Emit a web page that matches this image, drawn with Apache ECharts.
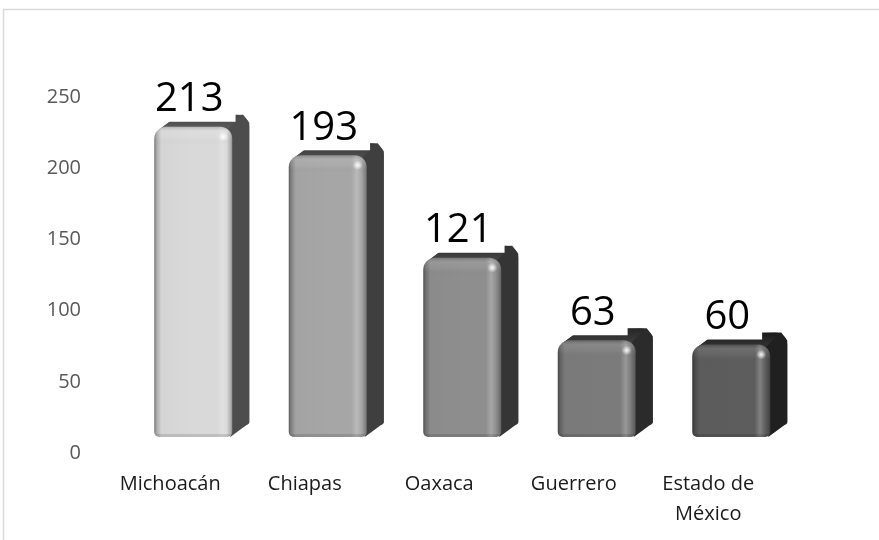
<!DOCTYPE html>
<html>
<head>
<meta charset="utf-8">
<script src="https://cdn.jsdelivr.net/npm/echarts@6/dist/echarts.min.js"></script>
<style>html,body{margin:0;padding:0;background:#fff}#c{width:879px;height:540px}</style>
</head>
<body>
<div id="c"></div>
<script>
const categories = ['Michoacán', 'Chiapas', 'Oaxaca', 'Guerrero', 'Estado de México'];
const values = [213, 193, 121, 63, 60];
const yTicks = [0, 50, 100, 150, 200, 250];

const frontColors = ['#d9d9d9', '#a6a6a6', '#8e8e8e', '#7b7b7b', '#5d5d5d'];
const sideColors = ['#4d4d4d', '#3f3f3f', '#353535', '#2b2b2b', '#202020'];

function shade(hex, f) {
  const n = parseInt(hex.slice(1), 16);
  let r = (n >> 16) & 255, g = (n >> 8) & 255, b = n & 255;
  const adj = c => {
    if (f >= 0) return Math.round(c + (255 - c) * f);
    return Math.round(c * (1 + f));
  };
  return 'rgb(' + adj(r) + ',' + adj(g) + ',' + adj(b) + ')';
}

const chart = echarts.init(document.getElementById('c'), null, {renderer: 'canvas'});

function renderItem(params, api) {
  const idx = params.dataIndex;
  const v = api.value(1);
  const p = api.coord([api.value(0), v]);
  const p0 = api.coord([api.value(0), 0]);
  const cx = p[0];
  const fl = cx - 16, fr = cx + 62, w = fr - fl;
  const bottom = p0[1] - 16;
  const top = p[1] - 23;
  const dx = 17, dy = -12;
  const body = frontColors[idx];
  const side = sideColors[idx];
  const r = 12;
  const children = [];
  // back silhouette
  children.push({
    type: 'rect',
    shape: {x: fl + dx, y: top + dy, width: w, height: bottom - top, r: [r, r, 4, 4]},
    style: {fill: side}
  });
  // hull connecting front and back
  children.push({
    type: 'polygon',
    shape: {points: [[fl + 6, top + 2], [fl + dx + 6, top + dy + 2], [fr + dx - 6, top + dy], [fr + dx, top + dy + 8], [fr + dx, bottom + dy - 2], [fr - 2, bottom], [fr - 2, top + 4]]},
    style: {fill: side}
  });
  // top face subtle gradient
  children.push({
    type: 'polygon',
    shape: {points: [[fl + 6, top + 2], [fl + dx + 6, top + dy + 1], [fr + dx - 8, top + dy + 1], [fr - 4, top + 2]]},
    style: {fill: new echarts.graphic.LinearGradient(0, 0, 0, 1, [
      {offset: 0, color: shade(side, -0.1)},
      {offset: 1, color: shade(side, 0.08)}
    ])}
  });
  // front face
  children.push({
    type: 'rect',
    shape: {x: fl, y: top, width: w, height: bottom - top, r: [r, r, 5, 5]},
    style: {fill: new echarts.graphic.LinearGradient(0, 0, 1, 0, [
      {offset: 0, color: shade(body, -0.45)},
      {offset: 0.03, color: shade(body, -0.22)},
      {offset: 0.09, color: shade(body, -0.02)},
      {offset: 0.5, color: body},
      {offset: 0.8, color: body},
      {offset: 0.87, color: shade(body, 0.22)},
      {offset: 0.93, color: shade(body, 0.02)},
      {offset: 0.98, color: shade(body, -0.2)},
      {offset: 1, color: shade(body, -0.35)}
    ])}
  });
  // top bevel
  children.push({
    type: 'rect',
    shape: {x: fl, y: top, width: w, height: 18, r: [r, r, 0, 0]},
    style: {fill: new echarts.graphic.LinearGradient(0, 0, 0, 1, [
      {offset: 0, color: 'rgba(0,0,0,0.18)'},
      {offset: 0.25, color: 'rgba(255,255,255,0.10)'},
      {offset: 0.6, color: 'rgba(255,255,255,0.05)'},
      {offset: 1, color: 'rgba(0,0,0,0)'}
    ])}
  });
  // bottom rim
  children.push({
    type: 'rect',
    shape: {x: fl + 2, y: bottom - 3, width: w - 4, height: 3, r: [0, 0, 4, 4]},
    style: {fill: 'rgba(0,0,0,0.12)'}
  });
  // specular highlight
  children.push({
    type: 'circle',
    shape: {cx: fr - 9, cy: top + 10, r: 5},
    style: {fill: new echarts.graphic.RadialGradient(0.5, 0.5, 0.5, [
      {offset: 0, color: 'rgba(255,255,255,0.95)'},
      {offset: 1, color: 'rgba(255,255,255,0)'}
    ])}
  });
  // value label
  children.push({
    type: 'text',
    style: {
      text: String(v),
      x: cx + 19,
      y: top + dy + 7,
      align: 'center',
      verticalAlign: 'bottom',
      font: '40px "Open Sans"',
      lineHeight: 40,
      fill: '#000000',
      backgroundColor: '#ffffff',
      padding: [0, 12, 2, 12]
    }
  });
  return {type: 'group', children: children};
}

chart.setOption({
  animation: false,
  backgroundColor: '#ffffff',
  graphic: [{
    type: 'rect',
    shape: {x: 3.5, y: 9.5, width: 900, height: 600},
    style: {fill: 'none', stroke: '#d9d9d9', lineWidth: 1.5},
    silent: true,
    z: -10
  }],
  grid: {left: 103, right: 103.5, top: 97, bottom: 87},
  xAxis: {
    type: 'category',
    data: categories,
    axisLine: {show: false},
    axisTick: {show: false},
    axisLabel: {
      interval: 0,
      margin: 16,
      color: '#1a1a1a',
      fontFamily: 'Open Sans',
      fontSize: 20,
      lineHeight: 30,
      formatter: s => s.replace('Estado de ', 'Estado de\n')
    }
  },
  yAxis: {
    type: 'value',
    min: yTicks[0],
    max: yTicks[yTicks.length - 1],
    interval: 50,
    axisLine: {show: false},
    axisTick: {show: false},
    splitLine: {show: false},
    axisLabel: {margin: 22, color: '#595959', fontFamily: 'Open Sans', fontSize: 20}
  },
  series: [{
    type: 'custom',
    renderItem: renderItem,
    data: categories.map((c, i) => [i, values[i]]),
    encode: {x: 0, y: 1},
    clip: false
  }]
});
</script>
</body>
</html>
